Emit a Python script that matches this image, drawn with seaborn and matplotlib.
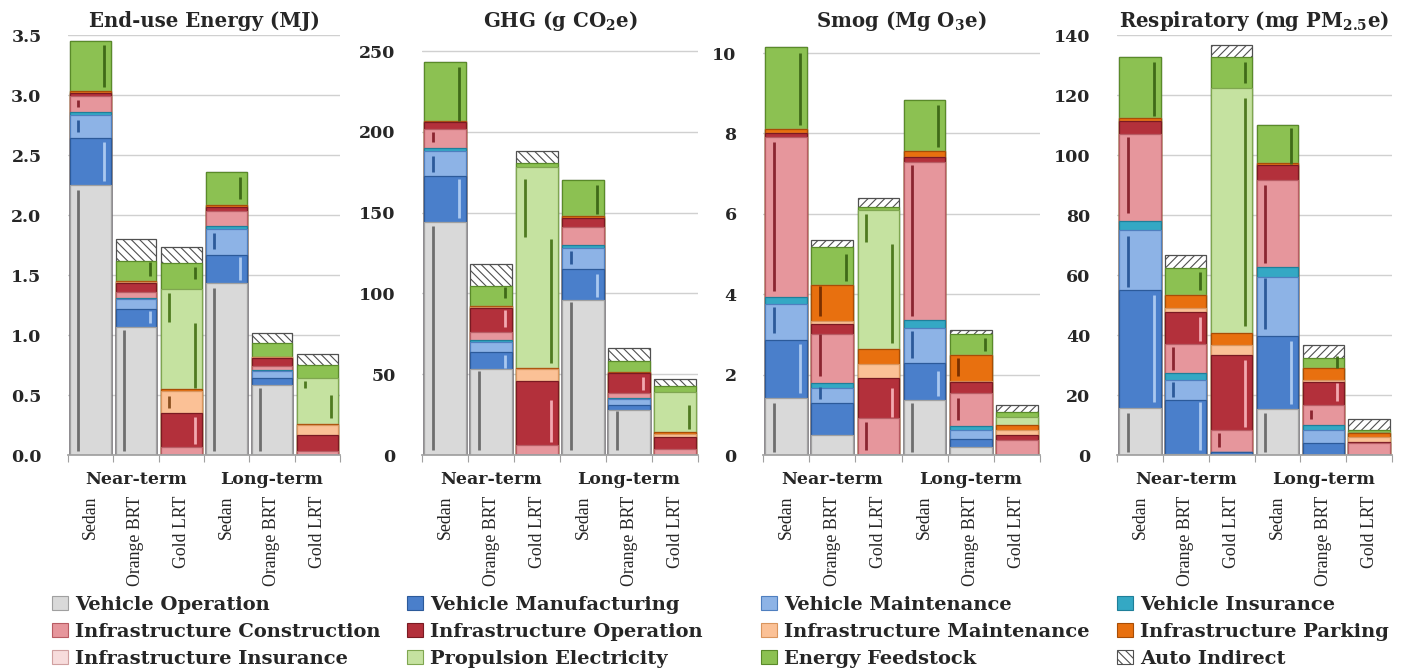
import numpy as np
import pandas as pd
import matplotlib
matplotlib.use("Agg")
import matplotlib.pyplot as plt
import seaborn as sns
from matplotlib.patches import Patch

# bars: near-term and long-term, three modes each
case_ids = ["nt_sedan", "nt_brt", "nt_lrt", "lt_sedan", "lt_brt", "lt_lrt"]
case_labels = ["Sedan", "Orange BRT", "Gold LRT", "Sedan", "Orange BRT", "Gold LRT"]
groups = ["Near-term", "Long-term"]

components = ["Vehicle Operation", "Vehicle Manufacturing", "Vehicle Maintenance",
              "Vehicle Insurance", "Infrastructure Construction", "Infrastructure Operation",
              "Infrastructure Maintenance", "Infrastructure Parking", "Infrastructure Insurance",
              "Propulsion Electricity", "Energy Feedstock", "Auto Indirect"]

# one row per component (same order as components), one column per case
energy = [[2.25, 1.07, 0.00, 1.43, 0.58, 0.00],
          [0.39, 0.15, 0.00, 0.24, 0.06, 0.00],
          [0.19, 0.08, 0.00, 0.21, 0.06, 0.00],
          [0.03, 0.01, 0.00, 0.03, 0.01, 0.00],
          [0.13, 0.05, 0.07, 0.12, 0.03, 0.03],
          [0.03, 0.07, 0.28, 0.04, 0.07, 0.14],
          [0.00, 0.01, 0.18, 0.00, 0.01, 0.08],
          [0.01, 0.01, 0.02, 0.01, 0.00, 0.01],
          [0.00, 0.00, 0.00, 0.00, 0.00, 0.00],
          [0.00, 0.00, 0.83, 0.00, 0.00, 0.38],
          [0.42, 0.17, 0.22, 0.28, 0.11, 0.11],
          [0.00, 0.18, 0.13, 0.00, 0.09, 0.09]]

ghg = [[144, 53, 0, 96, 28, 0],
       [29, 11, 0, 19, 3, 0],
       [15, 6, 0, 13, 3.5, 0],
       [2, 1, 0, 2, 1, 0],
       [12, 5, 6, 11, 3, 4],
       [4, 15, 40, 6, 12, 7],
       [0, 0.5, 7, 0, 0.5, 2],
       [1, 0.5, 1, 1, 0.5, 1],
       [0, 0, 0, 0, 0, 0],
       [0, 0, 124, 0, 0, 25],
       [36, 12.5, 3, 22, 6.5, 4],
       [0, 13.5, 7, 0, 8.5, 4]]

smog = [[1.42, 0.50, 0.00, 1.38, 0.20, 0.00],
        [1.45, 0.79, 0.00, 0.91, 0.19, 0.00],
        [0.88, 0.38, 0.00, 0.88, 0.23, 0.00],
        [0.18, 0.12, 0.00, 0.19, 0.10, 0.00],
        [3.99, 1.21, 0.92, 3.93, 0.82, 0.38],
        [0.08, 0.25, 1.00, 0.13, 0.27, 0.12],
        [0.00, 0.08, 0.35, 0.00, 0.03, 0.13],
        [0.12, 0.89, 0.37, 0.14, 0.66, 0.12],
        [0.00, 0.00, 0.00, 0.00, 0.00, 0.00],
        [0.00, 0.00, 3.46, 0.00, 0.00, 0.20],
        [2.02, 0.95, 0.07, 1.27, 0.50, 0.13],
        [0.00, 0.19, 0.23, 0.00, 0.12, 0.17]]

resp = [[15.6, 0.5, 0.0, 15.2, 0.0, 0.0],
        [39.4, 17.8, 1.0, 24.5, 3.9, 0.0],
        [20.0, 6.7, 0.0, 19.7, 4.4, 0.0],
        [3.1, 2.2, 0.0, 3.4, 1.7, 0.0],
        [28.9, 9.8, 7.3, 28.9, 6.7, 3.9],
        [4.4, 10.8, 25.0, 5.0, 7.7, 0.5],
        [0.0, 1.1, 3.4, 0.0, 0.5, 1.7],
        [0.8, 4.4, 4.1, 0.5, 4.0, 1.1],
        [0.0, 0.0, 0.0, 0.0, 0.0, 0.0],
        [0.0, 0.0, 81.4, 0.0, 0.0, 0.6],
        [20.6, 8.9, 10.4, 12.8, 3.3, 0.6],
        [0.0, 4.5, 4.1, 0.0, 4.5, 3.5]]

# uncertainty ranges drawn inside the segments: (case index, component, low, high)
PE_UP = "Propulsion Electricity (upper)"
energy_err = [(0, "Vehicle Operation", 0.03, 2.21), (0, "Vehicle Manufacturing", 2.28, 2.61),
              (0, "Vehicle Maintenance", 2.69, 2.79), (0, "Infrastructure Construction", 2.90, 2.96),
              (0, "Energy Feedstock", 3.07, 3.42), (1, "Vehicle Operation", 0.03, 1.04),
              (1, "Vehicle Manufacturing", 1.10, 1.20), (1, "Energy Feedstock", 1.49, 1.61),
              (2, "Infrastructure Operation", 0.09, 0.32), (2, "Infrastructure Maintenance", 0.39, 0.49),
              (2, "Propulsion Electricity", 0.56, 1.10), (2, PE_UP, 1.11, 1.35),
              (2, "Energy Feedstock", 1.47, 1.57), (3, "Vehicle Operation", 0.03, 1.39),
              (3, "Vehicle Manufacturing", 1.46, 1.65), (3, "Vehicle Maintenance", 1.72, 1.85),
              (3, "Energy Feedstock", 2.13, 2.32), (4, "Vehicle Operation", 0.03, 0.56),
              (5, "Propulsion Electricity", 0.31, 0.50), (5, PE_UP, 0.56, 0.62)]

ghg_err = [(0, "Vehicle Operation", 3, 142), (0, "Vehicle Manufacturing", 147, 171),
           (0, "Vehicle Maintenance", 175, 185), (0, "Infrastructure Construction", 194, 200),
           (0, "Energy Feedstock", 207, 240), (1, "Vehicle Operation", 3, 52),
           (1, "Vehicle Manufacturing", 54, 62), (1, "Infrastructure Operation", 79, 90),
           (1, "Energy Feedstock", 97, 104), (2, "Infrastructure Operation", 8, 34),
           (2, "Propulsion Electricity", 57, 134), (2, PE_UP, 135, 171),
           (3, "Vehicle Operation", 3, 95), (3, "Vehicle Manufacturing", 98, 112),
           (3, "Vehicle Maintenance", 118, 126), (3, "Energy Feedstock", 149, 167),
           (4, "Vehicle Operation", 3, 27), (4, "Infrastructure Operation", 40, 48),
           (5, "Propulsion Electricity", 16, 31)]

smog_err = [(0, "Vehicle Operation", 0.08, 1.29), (0, "Vehicle Manufacturing", 1.54, 2.75),
            (0, "Vehicle Maintenance", 3.04, 3.67), (0, "Infrastructure Construction", 4.08, 7.79),
            (0, "Energy Feedstock", 8.2, 10.0), (1, "Vehicle Maintenance", 1.4, 1.7),
            (1, "Infrastructure Construction", 1.96, 3.0), (1, "Infrastructure Parking", 3.46, 4.21),
            (1, "Energy Feedstock", 4.33, 5.0), (2, "Infrastructure Construction", 0.12, 0.83),
            (2, "Infrastructure Operation", 0.95, 1.67), (2, "Propulsion Electricity", 2.79, 5.25),
            (2, PE_UP, 5.29, 6.0), (3, "Vehicle Operation", 0.08, 1.29),
            (3, "Vehicle Manufacturing", 1.46, 2.1), (3, "Vehicle Maintenance", 2.42, 3.08),
            (3, "Infrastructure Construction", 3.46, 7.21), (3, "Energy Feedstock", 7.67, 8.71),
            (4, "Infrastructure Construction", 0.88, 1.42), (4, "Infrastructure Parking", 1.96, 2.42),
            (4, "Energy Feedstock", 2.58, 2.92)]

resp_err = [(0, "Vehicle Operation", 1, 14), (0, "Vehicle Manufacturing", 17.8, 53.3),
            (0, "Vehicle Maintenance", 56, 73), (0, "Infrastructure Construction", 80.6, 106),
            (0, "Energy Feedstock", 113, 131), (1, "Vehicle Manufacturing", 1.7, 17.8),
            (1, "Vehicle Maintenance", 19.4, 24.4), (1, "Infrastructure Construction", 28.3, 36),
            (1, "Infrastructure Operation", 38, 46), (1, "Energy Feedstock", 55, 61),
            (2, "Infrastructure Construction", 2.8, 7.2), (2, "Infrastructure Operation", 9.4, 31.7),
            (2, "Propulsion Electricity", 43, 119), (2, "Energy Feedstock", 124, 131),
            (3, "Vehicle Operation", 1, 14), (3, "Vehicle Manufacturing", 17, 38),
            (3, "Vehicle Maintenance", 42, 59), (3, "Infrastructure Construction", 64, 90),
            (3, "Energy Feedstock", 97, 109), (4, "Infrastructure Construction", 12, 15),
            (4, "Infrastructure Operation", 18, 24), (4, "Energy Feedstock", 29, 33)]

titles = ["End-use Energy (MJ)", r"GHG (g CO$_{\mathbf{2}}$e)",
          r"Smog (Mg O$_{\mathbf{3}}$e)", r"Respiratory (mg PM$_{\mathbf{2.5}}$e)"]
yticks = [np.arange(0, 3.51, 0.5), np.arange(0, 251, 50), np.arange(0, 11, 2), np.arange(0, 141, 20)]
ytick_fmt = ["{:.1f}", "{:.0f}", "{:.0f}", "{:.0f}"]
ylims = [3.5, 260, 10.45, 140]
bar_hatch = ["\\\\\\\\", "\\\\\\\\", "////", "////"]

faces = ["#d9d9d9", "#4a7fcb", "#8db3e6", "#34a8c4", "#e6969c", "#b3303b",
         "#fbc196", "#e8700f", "#f7dcdc", "#c5e2a0", "#8cc152", "#ffffff"]
edges = ["#a0a0a0", "#2c5a9a", "#4f7fbf", "#1f7f99", "#b85c64", "#7a1a22",
         "#d9955e", "#a84d05", "#d0a0a0", "#7fa650", "#5a8a2a", "#505050"]

# where (offset from bar centre) and in which colour each range line sits
err_style = {"Vehicle Operation": (-0.27, "#6e6e6e"),
             "Vehicle Manufacturing": (0.3, "#aac8f0"),
             "Vehicle Maintenance": (-0.27, "#2c5a9a"),
             "Infrastructure Construction": (-0.27, "#8b2530"),
             "Infrastructure Operation": (0.3, "#f2a9b0"),
             "Infrastructure Maintenance": (-0.27, "#8b5020"),
             "Infrastructure Parking": (-0.27, "#7a3000"),
             "Propulsion Electricity": (0.3, "#4f7a20"),
             PE_UP: (-0.27, "#4f7a20"),
             "Energy Feedstock": (0.3, "#3f6a18")}

sns.set_theme(style="white")
plt.rcParams["font.family"] = ["DejaVu Serif"]
plt.rcParams["mathtext.fontset"] = "dejavuserif"
plt.rcParams["hatch.linewidth"] = 0.8

W, H = 1401, 669
fig = plt.figure(figsize=(W / 100, H / 100), dpi=100)

panels_px = [(68, 340), (422, 698), (763, 1040), (1117, 1392)]
ytop, ybot = 35, 455
txt = "#262626"

for p, (data, errs) in enumerate(zip([energy, ghg, smog, resp],
                                     [energy_err, ghg_err, smog_err, resp_err])):
    x0, x1 = panels_px[p]
    ax = fig.add_axes([x0 / W, 1 - ybot / H, (x1 - x0) / W, (ybot - ytop) / H])
    df = pd.DataFrame(data, index=components, columns=case_ids)
    cum = df.cumsum()
    # draw cumulative totals from the top component down, so lower layers cover upper ones
    for i in range(len(components) - 1, -1, -1):
        sns.barplot(x=case_ids, y=cum.iloc[i].values, order=case_ids, ax=ax,
                    color=faces[i], saturation=1, edgecolor=edges[i], linewidth=0.9,
                    width=0.9, errorbar=None,
                    hatch=bar_hatch[p] if components[i] == "Auto Indirect" else None)
    for ci, comp, lo, hi in errs:
        off, col = err_style[comp]
        ax.vlines(ci + off, lo, hi, colors=col, linewidth=2, zorder=5)
    ax.set_xlim(-0.5, 5.5)
    ax.set_ylim(0, ylims[p])
    ax.set_xlabel("")
    ax.set_ylabel("")
    ax.set_axisbelow(True)
    ax.yaxis.grid(True, color="#d0d0d0", linewidth=1)
    for s in ["top", "right", "left"]:
        ax.spines[s].set_visible(False)
    ax.spines["bottom"].set_color("#a0a0a0")
    ax.set_yticks(yticks[p])
    ax.set_yticklabels([ytick_fmt[p].format(v) for v in yticks[p]],
                       fontweight="bold", fontsize=12.5, color=txt)
    ax.tick_params(axis="y", length=0, pad=19)
    ax.set_xticks(range(6))
    ax.set_xticklabels(case_labels, rotation=90, va="top", ha="center",
                       fontfamily="Liberation Serif", fontsize=12.8, color=txt)
    ax.set_xticks(np.arange(-0.5, 6, 1), minor=True)
    ax.tick_params(axis="x", which="major", length=0, pad=29)
    ax.tick_params(axis="x", which="minor", bottom=True, length=5, width=0.8, color="#a0a0a0")
    for g, xc in zip(groups, [1, 4]):
        ax.text(xc, -0.058, g, transform=ax.get_xaxis_transform(), ha="center", va="center",
                fontweight="bold", fontsize=12.5, color=txt)
    fig.text((x0 + x1) / 2 / W, 1 - 21 / H, titles[p], ha="center", va="center",
             fontweight="bold", fontsize=14.2, color=txt)

# legend laid out in four columns, read row by row
leg_x = [52, 407, 761, 1117]
for c in range(4):
    idx = [c, c + 4, c + 8]
    handles = [Patch(facecolor=faces[i], edgecolor=edges[i], linewidth=0.8,
                     hatch="\\\\\\\\" if components[i] == "Auto Indirect" else None) for i in idx]
    fig.legend(handles, [components[i] for i in idx], loc="upper left",
               bbox_to_anchor=(leg_x[c] / W, 1 - 596 / H), frameon=False,
               prop={"weight": "bold", "size": 14}, handlelength=0.8, handleheight=0.7,
               handletextpad=0.4, labelspacing=0.45, borderpad=0, borderaxespad=0,
               labelcolor=txt)

fig.savefig("out.png", dpi=100, facecolor="white")
